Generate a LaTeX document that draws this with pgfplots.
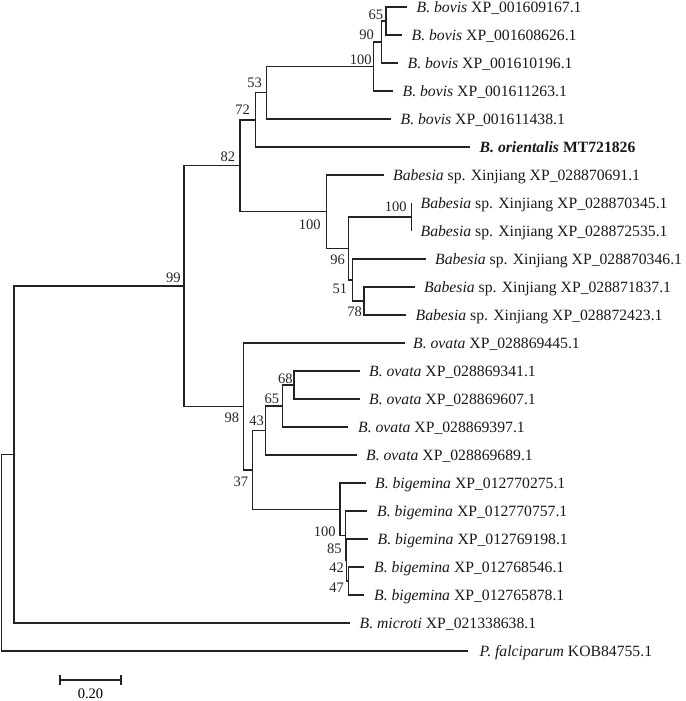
\documentclass[border=0pt]{standalone}
\usepackage{pgfplots}
\pgfplotsset{compat=1.18}
\usepackage{fontspec}
\setmainfont{Liberation Serif}
\definecolor{tree}{RGB}{35,35,35}
\tikzset{
  tl/.style={draw=tree, line width=1.25pt, mark=none},
  leaf/.style={anchor=base west, inner sep=0pt, font=\fontsize{15.7}{18}\selectfont, text=black!90},
  bs/.style={anchor=base east, inner sep=0pt, font=\fontsize{14.5}{17}\selectfont, text=black!85},
}
\begin{document}
\begin{tikzpicture}
\begin{axis}[
  x=1pt, y=1pt, y dir=reverse,
  xmin=0, xmax=685, ymin=0, ymax=701,
  hide axis, clip=false,
]
\path (axis cs:0,0) rectangle (axis cs:685,701);
% ---- B. bovis clade
\addplot[tl] coordinates {(407,7) (386,7) (386,35) (402,35)};            % n65
\addplot[tl] coordinates {(386,21) (381.7,21) (381.7,63) (398,63)};      % n90
\addplot[tl] coordinates {(381.7,42) (373.3,42) (373.3,91) (393,91)};    % n100a
\addplot[tl] coordinates {(373.3,66.5) (266.7,66.5) (266.7,119) (391,119)}; % n53
\addplot[tl] coordinates {(266.7,92.75) (255.7,92.75) (255.7,147) (470,147)}; % n72
% ---- Babesia sp. Xinjiang clade
\addplot[tl] coordinates {(411.7,203) (411.7,231)};                       % n100c (zero branches)
\addplot[tl] coordinates {(406,315) (364,315) (364,287) (415,287)};      % n78
\addplot[tl] coordinates {(426,259) (352.7,259) (352.7,301) (364,301)};  % n51
\addplot[tl] coordinates {(411.7,217) (348.3,217) (348.3,280) (352.7,280)}; % n96
\addplot[tl] coordinates {(384,175) (326.7,175) (326.7,248.5) (348.3,248.5)}; % n100b
\addplot[tl] coordinates {(255.7,119.9) (240,119.9) (240,211.75) (326.7,211.75)}; % n82
% ---- B. ovata / B. bigemina clade
\addplot[tl] coordinates {(360,371) (294,371) (294,399) (360,399)};      % n68
\addplot[tl] coordinates {(294,385) (282.3,385) (282.3,427) (348.3,427)}; % n65b
\addplot[tl] coordinates {(282.3,406) (265.7,406) (265.7,455) (356.7,455)}; % n43
\addplot[tl] coordinates {(364.3,567) (348.3,567) (348.3,595) (364.3,595)}; % n47
\addplot[tl] coordinates {(368,539) (346.7,539) (346.7,581) (348.3,581)}; % n42
\addplot[tl] coordinates {(367,511) (345.7,511) (345.7,560) (346.7,560)}; % n85
\addplot[tl] coordinates {(365.7,483) (340,483) (340,535.5) (345.7,535.5)}; % n100d
\addplot[tl] coordinates {(265.7,430.5) (252.3,430.5) (252.3,509.25) (340,509.25)}; % n37
\addplot[tl] coordinates {(405,343) (243.3,343) (243.3,469.9) (252.3,469.9)}; % n98
% ---- deep nodes
\addplot[tl] coordinates {(240,165.8) (184,165.8) (184,406.4) (243.3,406.4)}; % n99
\addplot[tl] coordinates {(184,286) (14,286) (14,623) (350,623)};         % n14
\addplot[tl] coordinates {(14,454.5) (1.7,454.5) (1.7,651) (468.3,651)};  % root
% ---- scale bar
\addplot[tl] coordinates {(60,680) (121,680)};
\addplot[tl] coordinates {(60,675.3) (60,684.7)};
\addplot[tl] coordinates {(121,675.3) (121,684.7)};
\node[anchor=base, inner sep=0pt, font=\fontsize{14.5}{17}\selectfont] at (axis cs:90.5,698) {0.20};
% ---- leaf labels
\node[leaf] at (axis cs:416.5,12.2) {\textit{B. bovis} XP\_001609167.1};
\node[leaf] at (axis cs:411.5,40.2) {\textit{B. bovis} XP\_001608626.1};
\node[leaf] at (axis cs:407.5,68.2) {\textit{B. bovis} XP\_001610196.1};
\node[leaf] at (axis cs:402.5,96.2) {\textit{B. bovis} XP\_001611263.1};
\node[leaf] at (axis cs:400.5,124.2) {\textit{B. bovis} XP\_001611438.1};
\node[leaf] at (axis cs:479.5,152.2) {\textbf{\textit{B. orientalis} MT721826}};
\node[leaf] at (axis cs:393,180.2) {\textit{Babesia} sp. Xinjiang XP\_028870691.1};
\node[leaf] at (axis cs:420.5,208.2) {\textit{Babesia} sp. Xinjiang XP\_028870345.1};
\node[leaf] at (axis cs:420.5,236.2) {\textit{Babesia} sp. Xinjiang XP\_028872535.1};
\node[leaf] at (axis cs:435,264.2) {\textit{Babesia} sp. Xinjiang XP\_028870346.1};
\node[leaf] at (axis cs:424,292.2) {\textit{Babesia} sp. Xinjiang XP\_028871837.1};
\node[leaf] at (axis cs:415.5,320.2) {\textit{Babesia} sp. Xinjiang XP\_028872423.1};
\node[leaf] at (axis cs:413,348.2) {\textit{B. ovata} XP\_028869445.1};
\node[leaf] at (axis cs:369,376.2) {\textit{B. ovata} XP\_028869341.1};
\node[leaf] at (axis cs:369,404.2) {\textit{B. ovata} XP\_028869607.1};
\node[leaf] at (axis cs:358,432.2) {\textit{B. ovata} XP\_028869397.1};
\node[leaf] at (axis cs:366,460.2) {\textit{B. ovata} XP\_028869689.1};
\node[leaf] at (axis cs:375,488.2) {\textit{B. bigemina} XP\_012770275.1};
\node[leaf] at (axis cs:377,516.2) {\textit{B. bigemina} XP\_012770757.1};
\node[leaf] at (axis cs:377.5,544.2) {\textit{B. bigemina} XP\_012769198.1};
\node[leaf] at (axis cs:374,572.2) {\textit{B. bigemina} XP\_012768546.1};
\node[leaf] at (axis cs:374,600.2) {\textit{B. bigemina} XP\_012765878.1};
\node[leaf] at (axis cs:359.5,628.2) {\textit{B. microti} XP\_021338638.1};
\node[leaf] at (axis cs:479.5,656.2) {\textit{P. falciparum} KOB84755.1};
% ---- bootstrap values
\node[bs] at (axis cs:383.3,19.8) {65};
\node[bs] at (axis cs:374,39.8) {90};
\node[bs] at (axis cs:371.7,64.1) {100};
\node[bs] at (axis cs:262,87.5) {53};
\node[bs] at (axis cs:250,114.8) {72};
\node[bs] at (axis cs:235.3,161.5) {82};
\node[bs] at (axis cs:180.7,282.5) {99};
\node[bs] at (axis cs:320.7,229.8) {100};
\node[bs] at (axis cs:406.7,211.5) {100};
\node[bs] at (axis cs:345,264.1) {96};
\node[bs] at (axis cs:347.3,293.1) {51};
\node[bs] at (axis cs:362,316.5) {78};
\node[bs] at (axis cs:239.3,422.5) {98};
\node[bs] at (axis cs:264,425.8) {43};
\node[bs] at (axis cs:279.3,403.1) {65};
\node[bs] at (axis cs:292.7,383.1) {68};
\node[bs] at (axis cs:248.3,486.5) {37};
\node[bs] at (axis cs:335.7,536.5) {100};
\node[bs] at (axis cs:341.7,553.1) {85};
\node[bs] at (axis cs:344,572.1) {42};
\node[bs] at (axis cs:344,592.1) {47};
\end{axis}
\end{tikzpicture}
\end{document}
